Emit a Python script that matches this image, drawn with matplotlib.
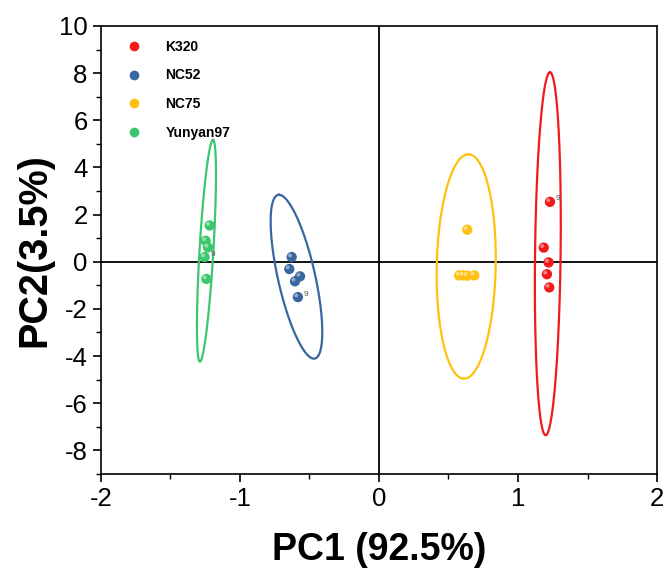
import numpy as np
import matplotlib
matplotlib.use("Agg")
import matplotlib.pyplot as plt
from matplotlib.lines import Line2D
from matplotlib.transforms import ScaledTranslation

plt.rcParams['font.family'] = ['Liberation Sans', 'DejaVu Sans']

groups = ["K320", "NC52", "NC75", "Yunyan97"]
colors = ["#F21A1A", "#3A66A0", "#FFC010", "#3CC66E"]

pc1 = {
    "K320": [1.230, 1.185, 1.220, 1.208, 1.225],
    "NC52": [-0.628, -0.645, -0.568, -0.604, -0.583],
    "NC75": [0.635, 0.576, 0.606, 0.635, 0.686],
    "Yunyan97": [-1.218, -1.247, -1.230, -1.254, -1.242],
}
pc2 = {
    "K320": [2.54, 0.60, -0.03, -0.53, -1.09],
    "NC52": [0.20, -0.31, -0.62, -0.83, -1.50],
    "NC75": [1.36, -0.58, -0.58, -0.59, -0.58],
    "Yunyan97": [1.54, 0.89, 0.61, 0.20, -0.73],
}
label_point = {"K320": 0, "NC52": 4, "Yunyan97": 3}
point_text = "9"

# ellipse: top tip, bottom tip, horizontal half-width at centre (data units)
ell_top = {"K320": (1.230, 8.04), "NC52": (-0.719, 2.84),
           "NC75": (0.643, 4.56), "Yunyan97": (-1.194, 5.17)}
ell_bot = {"K320": (1.199, -7.36), "NC52": (-0.468, -4.11),
           "NC75": (0.612, -4.96), "Yunyan97": (-1.288, -4.24)}
ell_hw = {"K320": 0.092, "NC52": 0.137, "NC75": 0.212, "Yunyan97": 0.05}

xticks = [-2, -1, 0, 1, 2]
yticks = [-8, -6, -4, -2, 0, 2, 4, 6, 8, 10]
xlabel = "PC1 (92.5%)"
ylabel = "PC2(3.5%)"

fig = plt.figure(figsize=(6.64, 5.71), dpi=100)
ax = fig.add_axes([0.152, 0.170, 0.8375, 0.7845])
ax.set_xlim(-2, 2)
ax.set_ylim(-9, 10)

ax.axhline(0, color="black", lw=1.3, zorder=1)
ax.axvline(0, color="black", lw=1.3, zorder=1)

t = np.linspace(0, 2 * np.pi, 400)
for g, c in zip(groups, colors):
    top = np.array(ell_top[g]); bot = np.array(ell_bot[g])
    cen = (top + bot) / 2
    A = (top - bot) / 2
    B = np.array([ell_hw[g], 0.0])
    xs = cen[0] + np.cos(t) * A[0] + np.sin(t) * B[0]
    ys = cen[1] + np.cos(t) * A[1] + np.sin(t) * B[1]
    ax.plot(xs, ys, color=c, lw=1.6, zorder=2)

hl = ScaledTranslation(-1.2 / 72, 1.2 / 72, fig.dpi_scale_trans)
for g, c in zip(groups, colors):
    ax.scatter(pc1[g], pc2[g], s=55, color=c, edgecolors="none", zorder=4)
    ax.scatter(pc1[g], pc2[g], s=8, color="white", alpha=0.45, edgecolors="none",
               zorder=5, transform=ax.transData + hl)
    if g in label_point:
        i = label_point[g]
        ax.annotate(point_text, (pc1[g][i], pc2[g][i]), xytext=(4, 1),
                    textcoords="offset points", fontsize=6, color="#555555", zorder=3)

handles = [Line2D([], [], ls="none", marker="o", markersize=7, color=c,
                  markeredgecolor="none") for c in colors]
leg = ax.legend(handles, groups, loc="upper left", frameon=False,
                prop={"weight": "bold", "size": 10}, labelspacing=1.05,
                handletextpad=0.95, bbox_to_anchor=(0.0, 1.0), borderaxespad=0.6,
                handlelength=2.7)

ax.set_xticks(xticks)
ax.set_yticks(yticks)
ax.set_xticklabels([str(v) for v in xticks])
ax.set_yticklabels([str(v) for v in yticks])
ax.set_xticks(np.arange(-1.5, 2.0, 1.0), minor=True)
ax.set_yticks(np.arange(-9, 10.5, 1.0), minor=True)
ax.tick_params(which="major", direction="out", length=6, width=1.2, labelsize=18.5,
               top=False, right=False)
ax.tick_params(which="minor", direction="out", length=3.5, width=1.0,
               top=False, right=False)
for s in ax.spines.values():
    s.set_linewidth(1.2)

ax.set_xlabel(xlabel, fontsize=27, fontweight="bold", labelpad=15)
ax.set_ylabel(ylabel, fontsize=28.5, fontweight="bold", labelpad=4)

fig.savefig("out.png", dpi=100)
